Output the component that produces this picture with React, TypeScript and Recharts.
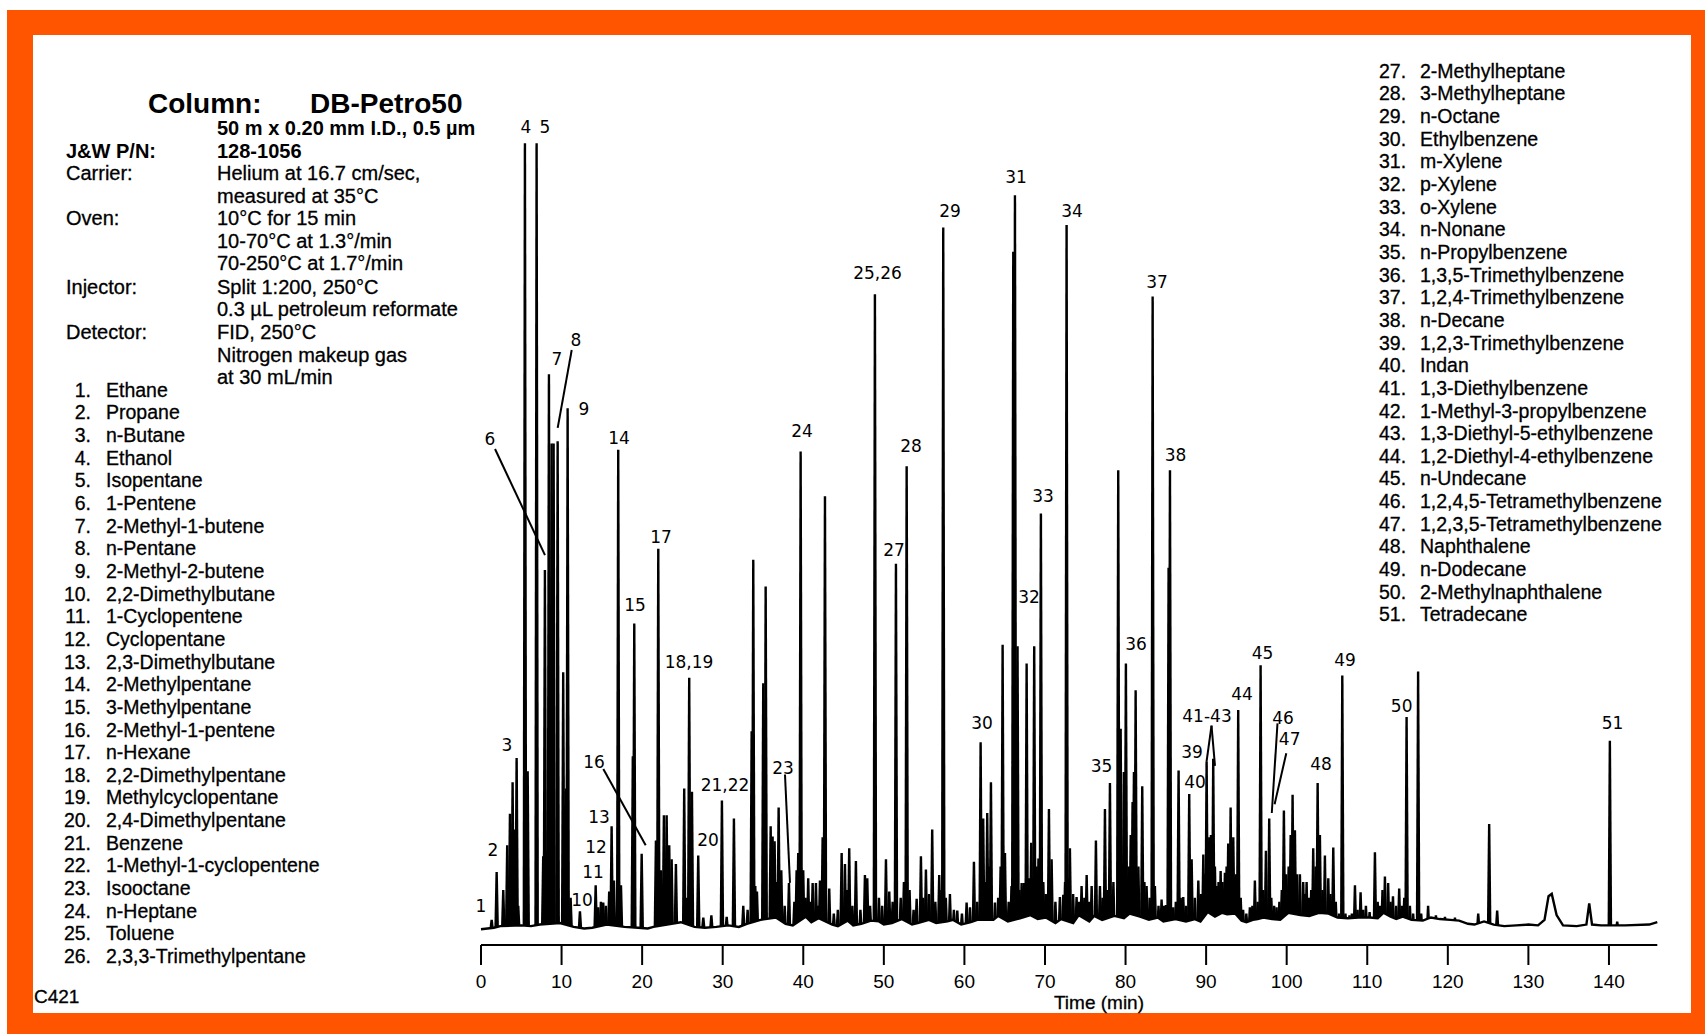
import React from 'react';
import { ComposedChart, Bar, Area, Scatter, XAxis, YAxis, ReferenceLine } from 'recharts';

// [retention time (min), response (% of full scale)]
const peaks: [number, number][] = [
  [1.33, 1.2], [1.95, 7.3], [2.77, 5.0], [3.26, 10.7], [3.6, 14.7], [3.93, 18.7], [4.13, 12.7], [4.43, 21.8],
  [4.63, 3.0], [5.46, 100.0], [5.8, 20.1], [6.91, 100.0], [7.73, 9.3], [7.94, 45.7], [8.44, 70.6], [8.77, 61.8],
  [9.02, 61.8], [9.52, 62.1], [10.21, 32.7], [10.55, 17.9], [10.76, 66.3], [11.13, 4.0], [12.29, 2.3],
  [14.24, 5.6], [14.56, 2.8], [14.89, 3.5], [15.18, 3.4], [15.51, 3.0], [15.92, 4.8], [16.22, 13.1], [16.51, 6.2],
  [17.04, 61.0], [17.38, 5.6], [18.85, 22.0], [19.03, 38.9], [19.95, 9.6], [21.72, 11.3], [22.01, 48.4],
  [22.34, 7.5], [22.71, 14.5], [23.05, 14.5], [23.37, 10.7], [23.67, 8.9], [24.2, 8.3], [25.23, 17.9],
  [25.55, 4.0], [25.85, 32.0], [26.19, 17.5], [26.97, 9.4], [27.6, 1.5], [28.6, 1.8], [29.91, 16.4], [30.5, 1.6],
  [31.4, 14.1], [32.56, 3.0], [33.1, 2.5], [33.6, 25.2], [33.8, 47.0], [34.05, 5.5], [34.26, 4.8], [35.04, 31.3],
  [35.34, 43.6], [35.96, 13.1], [36.2, 11.8], [36.45, 11.2], [36.7, 6.0], [36.95, 15.5], [37.28, 7.5], [37.7, 3.0],
  [38.23, 5.9], [38.9, 3.5], [39.18, 7.5], [39.38, 9.7], [39.68, 60.8],
  [40.0, 7.5], [40.3, 4.0], [40.62, 6.5], [40.9, 3.5], [41.17, 5.9], [41.58, 5.9], [41.85, 3.0], [42.08, 6.2],
  [42.41, 11.7], [42.7, 55.1], [43.23, 5.2], [43.8, 2.0], [44.3, 2.5], [44.77, 9.7], [45.18, 8.3], [45.45, 5.0],
  [45.71, 10.3], [46.1, 3.0], [46.54, 8.7], [47.1, 2.5], [47.66, 6.9], [47.95, 6.5], [48.3, 3.0], [48.9, 80.8],
  [49.4, 4.0], [49.8, 3.0], [50.27, 8.9], [50.68, 4.8], [51.1, 3.5], [51.51, 46.5], [52.1, 4.0], [52.5, 6.0],
  [52.84, 58.9], [53.2, 5.0], [53.7, 2.5], [54.08, 3.9], [54.61, 9.3], [54.9, 4.0], [55.23, 7.6], [55.6, 4.5],
  [56.01, 12.7], [56.4, 3.5], [56.88, 6.9], [57.15, 5.0], [57.38, 89.3], [57.7, 4.0],
  [58.21, 4.5], [58.7, 2.5], [59.12, 2.4], [59.7, 2.0], [60.28, 3.4], [60.7, 2.8], [61.19, 8.6], [61.6, 3.5],
  [62.02, 23.8], [62.34, 14.1], [62.6, 6.0], [62.84, 14.8], [63.05, 8.0], [63.3, 18.7], [63.8, 3.4], [64.2, 4.0],
  [64.5, 8.0], [64.75, 36.2], [65.04, 9.7], [65.5, 3.5], [65.85, 5.5], [66.07, 86.2], [66.28, 93.4], [66.6, 36.0],
  [66.85, 5.0], [67.11, 5.9], [67.4, 5.9], [67.73, 33.8], [68.0, 6.5], [68.3, 11.0], [68.67, 36.0], [68.95, 8.0],
  [69.2, 9.0], [69.5, 52.9], [69.8, 6.0], [70.1, 4.5], [70.5, 15.3], [70.83, 8.9], [71.3, 3.5], [71.86, 4.1],
  [72.28, 4.4], [72.5, 6.0], [72.69, 89.6], [72.95, 6.5], [73.1, 10.3], [73.5, 4.5], [73.93, 4.1], [74.25, 3.5],
  [74.55, 5.5], [74.9, 4.0], [75.18, 6.9], [75.5, 3.5], [75.8, 5.5],
  [76.33, 11.3], [76.83, 5.5], [77.15, 4.0], [77.45, 15.3], [77.75, 5.0], [78.07, 18.6], [78.5, 6.0], [79.1, 58.4],
  [79.4, 25.5], [79.8, 20.0], [80.05, 33.8], [80.4, 8.0], [80.65, 12.0], [80.88, 16.2], [81.05, 20.0], [81.26, 30.4],
  [81.6, 8.0], [82.08, 18.2], [82.35, 6.0], [82.62, 5.5], [83.0, 4.0], [83.37, 80.5], [83.65, 5.5], [84.1, 3.0],
  [84.48, 3.8], [84.75, 3.0], [85.02, 3.1], [85.35, 46.0], [85.52, 58.4], [85.93, 2.8], [86.25, 3.5], [86.59, 20.2],
  [86.85, 4.0], [87.17, 4.1], [87.5, 3.0], [87.91, 17.2], [88.21, 8.9], [88.6, 4.0], [89.04, 6.2], [89.35, 4.5],
  [89.66, 9.5], [89.85, 7.0], [90.07, 21.3], [90.25, 9.0], [90.4, 11.7], [90.61, 12.0], [90.89, 21.7], [91.1, 8.0],
  [91.31, 5.5], [91.55, 6.0], [91.81, 7.4], [92.05, 6.0], [92.34, 7.2], [92.55, 8.0], [92.75, 10.9], [93.05, 15.5],
  [93.38, 11.7], [93.7, 7.0], [93.99, 27.9],
  [94.3, 4.0], [94.6, 2.5], [95.0, 2.0], [95.44, 2.8], [95.75, 3.0], [96.06, 6.2], [96.4, 3.5], [96.77, 33.6],
  [97.1, 5.0], [97.43, 10.0], [97.84, 14.1], [98.1, 4.0], [98.45, 3.0], [98.75, 2.8], [99.1, 3.5], [99.4, 5.0],
  [99.66, 15.1], [99.95, 7.0], [100.25, 8.0], [100.5, 12.0], [100.74, 17.1], [101.03, 12.6], [101.3, 7.0],
  [101.65, 7.0], [102.06, 6.0], [102.25, 4.5], [102.48, 6.0], [102.8, 4.0], [103.05, 5.0], [103.3, 10.3],
  [103.6, 8.0], [103.85, 18.6], [104.13, 12.0], [104.45, 5.0], [104.75, 9.4], [105.17, 6.5], [105.45, 4.5],
  [105.79, 10.4], [106.1, 3.5], [106.5, 2.0], [106.91, 32.3], [107.3, 2.0], [107.8, 1.8], [108.1, 2.0],
  [108.48, 5.6], [108.8, 2.5], [109.18, 4.7], [109.5, 2.5], [109.84, 3.0], [110.3, 2.2], [110.96, 9.8],
  [111.3, 3.5], [111.6, 3.0], [111.9, 5.0], [112.2, 6.7], [112.6, 5.9], [112.9, 3.5], [113.2, 4.2], [113.6, 3.0],
  [113.97, 5.2], [114.3, 3.0], [114.6, 4.0], [114.89, 27.0], [115.3, 3.0], [115.7, 2.0], [116.32, 32.8],
  [116.7, 2.0], [117.56, 3.0], [118.53, 1.8], [119.65, 1.6], [120.89, 1.5], [123.78, 2.0], [125.14, 13.4],
  [126.13, 2.4], [140.12, 24.0], [141.03, 1.0],
];

// baseline trace [time, response]; carries the drift and the two broad humps near 133 and 137.5 min
const baseline: [number, number][] = [
  [0, 0.0], [0.8, 0.1], [1.6, 0.2], [2.4, 0.4], [5.0, 0.5], [6.2, 0.4], [7.3, 0.6], [9.8, 0.8], [11.5, 0.3],
  [12.8, 0.1], [13.8, 0.2], [15.6, 0.6], [17.8, 0.3], [19.5, 0.2], [20.7, 0.1], [21.4, 0.3], [24.8, 0.9],
  [26.5, 0.3], [27.8, 0.2], [29.2, 0.3], [30.7, 0.5], [32.0, 0.3], [33.0, 0.7], [34.7, 1.2], [36.6, 1.5],
  [37.8, 0.7], [38.7, 0.5], [40.3, 1.6], [41.0, 0.9], [41.9, 1.4], [43.6, 0.6], [44.3, 0.4], [45.5, 1.1],
  [46.2, 0.5], [47.2, 0.7], [48.4, 1.1], [49.4, 1.0], [50.0, 0.6], [51.0, 0.8], [52.2, 1.3], [53.5, 0.6],
  [54.2, 0.8], [55.6, 1.2], [56.5, 0.8], [57.9, 1.0], [58.6, 1.2], [59.6, 0.6], [60.8, 0.9], [61.6, 1.2],
  [63.6, 1.2], [64.2, 1.7], [65.4, 1.0], [66.9, 1.4], [68.2, 1.8], [69.1, 1.3], [70.1, 1.5], [71.3, 0.8],
  [72.0, 1.3], [73.5, 0.8], [74.2, 1.8], [75.5, 1.0], [76.1, 1.7], [77.1, 1.2], [78.6, 1.7], [79.8, 1.4],
  [80.5, 2.0], [81.8, 1.6], [82.9, 1.2], [84.0, 1.5], [84.7, 1.0], [86.2, 1.3], [87.5, 1.0], [88.6, 1.3],
  [89.3, 1.0], [90.2, 2.2], [91.1, 1.6], [92.0, 2.1], [92.6, 1.9], [93.6, 2.0], [94.4, 1.1], [95.0, 0.9],
  [95.8, 1.2], [96.4, 1.3], [97.1, 1.5], [98.2, 1.3], [99.2, 1.2], [100.2, 2.1], [101.7, 1.8], [102.8, 1.7],
  [104.0, 2.1], [105.2, 2.0], [106.3, 1.5], [107.6, 1.4], [108.9, 1.5], [110.3, 1.5], [111.3, 1.4], [112.0, 2.1],
  [112.9, 1.6], [113.6, 1.3], [114.4, 1.6], [115.5, 1.2], [116.9, 1.1], [117.9, 1.5], [119.0, 1.3], [120.3, 1.2],
  [121.4, 1.1], [122.5, 0.7], [123.3, 0.6], [124.5, 1.0], [125.7, 0.6], [127.0, 0.4], [128.5, 0.5], [130.0, 0.6],
  [131.2, 0.5], [132.0, 1.2], [132.5, 4.2], [132.9, 4.5], [133.5, 1.8], [134.3, 0.5], [136.0, 0.4], [137.2, 0.6],
  [137.55, 3.3], [137.9, 0.6], [139.0, 0.5], [142.0, 0.5], [145.0, 0.6], [146.0, 0.9],
];

// peak numbers: [text, time, response at label centre]
const peakLabels: [string, number, number][] = [
  ['1', 0, 3.0], ['2', 1.49, 10.1], ['3', 3.23, 23.4], ['4', 5.59, 102.1], ['5', 7.94, 102.1], ['6', 1.12, 62.4],
  ['7', 9.43, 72.6], ['8', 11.79, 75.0], ['9', 12.78, 66.2], ['10', 12.54, 3.7], ['11', 13.9, 7.3],
  ['12', 14.27, 10.5], ['13', 14.65, 14.3], ['14', 17.13, 62.5], ['15', 19.11, 41.3], ['16', 14.03, 21.3],
  ['17', 22.34, 49.9], ['18,19', 25.82, 34.0], ['20', 28.17, 11.3], ['21,22', 30.28, 18.3], ['23', 37.48, 20.5],
  ['24', 39.84, 63.4], ['25,26', 49.21, 83.5], ['27', 51.26, 48.3], ['28', 53.37, 61.5], ['29', 58.21, 91.4],
  ['30', 62.18, 26.3], ['31', 66.4, 95.7], ['32', 68.02, 42.3], ['33', 69.75, 55.1], ['34', 73.35, 91.4],
  ['35', 77.01, 20.8], ['36', 81.3, 36.3], ['37', 83.9, 82.3], ['38', 86.2, 60.4], ['39', 88.25, 22.5],
  ['40', 88.62, 18.7], ['41-43', 90.11, 27.1], ['44', 94.45, 29.9], ['45', 97.0, 35.2], ['46', 99.54, 26.9],
  ['47', 100.37, 24.2], ['48', 104.26, 21.0], ['49', 107.24, 34.3], ['50', 114.27, 28.4], ['51', 140.45, 26.2],
];

// pointer lines from a number to its peak: [t1, v1, t2, v2]
const leaderLines: [number, number, number, number][] = [
  [1.74, 61.1, 7.94, 47.6],
  [11.26, 73.7, 9.52, 63.8],
  [15.18, 20.4, 20.44, 10.7],
  [37.73, 19.7, 38.35, 5.9],
  [90.05, 21.3, 90.67, 25.9],
  [90.67, 25.9, 91.1, 20.8],
  [98.86, 26.2, 98.15, 14.8],
  [99.95, 22.4, 98.5, 15.9],
];

const timeTicks = [0, 10, 20, 30, 40, 50, 60, 70, 80, 90, 100, 110, 120, 130, 140];

const conditions: [string, string, number][] = [
  ['J&W P/N:', '128-1056', 151],
  ['Carrier:', 'Helium at 16.7 cm/sec,', 173],
  ['', 'measured at 35°C', 196],
  ['Oven:', '10°C for 15 min', 218],
  ['', '10-70°C at 1.3°/min', 241],
  ['', '70-250°C at 1.7°/min', 263],
  ['Injector:', 'Split 1:200, 250°C', 287],
  ['', '0.3 µL petroleum reformate', 309],
  ['Detector:', 'FID, 250°C', 332],
  ['', 'Nitrogen makeup gas', 355],
  ['', 'at 30 mL/min', 377],
];

const compoundsA = [
  'Ethane', 'Propane', 'n-Butane', 'Ethanol', 'Isopentane', '1-Pentene', '2-Methyl-1-butene', 'n-Pentane',
  '2-Methyl-2-butene', '2,2-Dimethylbutane', '1-Cyclopentene', 'Cyclopentane', '2,3-Dimethylbutane',
  '2-Methylpentane', '3-Methylpentane', '2-Methyl-1-pentene', 'n-Hexane', '2,2-Dimethylpentane',
  'Methylcyclopentane', '2,4-Dimethylpentane', 'Benzene', '1-Methyl-1-cyclopentene', 'Isooctane', 'n-Heptane',
  'Toluene', '2,3,3-Trimethylpentane',
];

const compoundsB = [
  '2-Methylheptane', '3-Methylheptane', 'n-Octane', 'Ethylbenzene', 'm-Xylene', 'p-Xylene', 'o-Xylene',
  'n-Nonane', 'n-Propylbenzene', '1,3,5-Trimethylbenzene', '1,2,4-Trimethylbenzene', 'n-Decane',
  '1,2,3-Trimethylbenzene', 'Indan', '1,3-Diethylbenzene', '1-Methyl-3-propylbenzene',
  '1,3-Diethyl-5-ethylbenzene', '1,2-Diethyl-4-ethylbenzene', 'n-Undecane', '1,2,4,5-Tetramethylbenzene',
  '1,2,3,5-Tetramethylbenzene', 'Naphthalene', 'n-Dodecane', '2-Methylnaphthalene', 'Tetradecane',
];

const SANS = '"Liberation Sans", Arial, Helvetica, sans-serif';
const ROW = 22.65;

// both chart layers share the same plot box so their scales line up
const W = 1705;
const H = 1034;
const MARGIN = { top: 111.84, right: 47.7, left: 481 };
const X_DOMAIN: [number, number] = [0, 146];
const Y_DOMAIN: [number, number] = [-2, 104];

const peakRows = peaks.map(([t, h]) => ({ t, h }));
const baseRows = baseline.map(([t, level]) => ({ t, level }));
const labelRows = peakLabels.map(([text, t, v]) => ({ t, v, text }));

// narrow tapered spike centred on the retention time
function Spike(props: any) {
  const { x, y, width, height } = props;
  if (!height || height <= 0) return null;
  const cx = x + width / 2;
  const b = y + height;
  return <path d={`M${cx - 2.3},${b}L${cx - 1.2},${y}L${cx + 1.2},${y}L${cx + 2.3},${b}Z`} fill="#000" />;
}

function PeakNumber(props: any) {
  const { cx, cy, payload } = props;
  return (
    <text x={cx} y={cy} textAnchor="middle" dominantBaseline="central" fontFamily='"DejaVu Sans", Verdana, sans-serif' fontSize={17} fill="#000">
      {payload.text}
    </text>
  );
}

function Txt({ x, y, size = 20, bold = false, children, align = 'left', w }: any) {
  const style: React.CSSProperties = {
    position: 'absolute',
    top: y - size / 2,
    fontFamily: SANS,
    fontSize: size,
    lineHeight: `${size}px`,
    fontWeight: bold ? 700 : 400,
    whiteSpace: 'nowrap',
    color: '#000',
    WebkitTextStroke: bold ? undefined : '0.3px #000',
  };
  if (align === 'right') {
    style.left = x - (w ?? 40);
    style.width = w ?? 40;
    style.textAlign = 'right';
  } else if (align === 'center') {
    style.left = x - (w ?? 200) / 2;
    style.width = w ?? 200;
    style.textAlign = 'center';
  } else {
    style.left = x;
  }
  return <div style={style}>{children}</div>;
}

export default function App() {
  return (
    <div style={{ position: 'absolute', left: 0, top: 0, width: W, height: H, background: '#fff', overflow: 'hidden' }}>
      <div style={{ position: 'absolute', left: 7, top: 10, width: 1698, height: 1024, background: '#ff5400' }} />
      <div style={{ position: 'absolute', left: 33, top: 35, width: 1658, height: 978, background: '#fff' }} />

      <Txt x={148} y={104} size={28} bold>Column:</Txt>
      <Txt x={310} y={104} size={28} bold>DB-Petro50</Txt>
      <Txt x={217} y={128} size={20} bold>50 m x 0.20 mm I.D., 0.5 µm</Txt>
      {conditions.map(([k, v, y], i) => (
        <React.Fragment key={i}>
          {k && <Txt x={66} y={y} bold={i === 0}>{k}</Txt>}
          <Txt x={217} y={y} bold={i === 0}>{v}</Txt>
        </React.Fragment>
      ))}

      {compoundsA.map((name, i) => (
        <React.Fragment key={name}>
          <Txt x={91} y={390.5 + i * ROW} size={19.5} align="right">{`${i + 1}.`}</Txt>
          <Txt x={106} y={390.5 + i * ROW} size={19.5}>{name}</Txt>
        </React.Fragment>
      ))}
      {compoundsB.map((name, i) => (
        <React.Fragment key={name}>
          <Txt x={1379} y={71.5 + i * ROW} size={19.5}>{`${i + 27}.`}</Txt>
          <Txt x={1420} y={71.5 + i * ROW} size={19.5}>{name}</Txt>
        </React.Fragment>
      ))}
      <Txt x={34} y={996} size={19}>C421</Txt>
      <Txt x={1099} y={1002} size={19} align="center">Time (min)</Txt>

      {/* peaks and time axis */}
      <div style={{ position: 'absolute', left: 0, top: 0 }}>
        <ComposedChart width={W} height={H} data={peakRows} margin={{ ...MARGIN, bottom: 29 }}>
          <XAxis
            dataKey="t"
            type="number"
            domain={X_DOMAIN}
            ticks={timeTicks}
            interval={0}
            height={60}
            tickSize={20}
            tickMargin={10}
            axisLine={{ stroke: '#000', strokeWidth: 2 }}
            tickLine={{ stroke: '#000', strokeWidth: 2 }}
            tick={{ fill: '#000', fontSize: 19, fontFamily: SANS }}
          />
          <YAxis hide type="number" domain={Y_DOMAIN} />
          <Bar dataKey="h" shape={Spike} barSize={4} isAnimationActive={false} />
        </ComposedChart>
      </div>

      {/* baseline trace drawn over the spike feet, plus peak numbers */}
      <div style={{ position: 'absolute', left: 0, top: 0, pointerEvents: 'none' }}>
        <ComposedChart width={W} height={H} data={baseRows} margin={{ ...MARGIN, bottom: 89 }}>
          <XAxis hide dataKey="t" type="number" domain={X_DOMAIN} />
          <YAxis hide type="number" domain={Y_DOMAIN} />
          <Area
            dataKey="level"
            type="linear"
            baseValue={-0.4}
            stroke="#000"
            strokeWidth={2.4}
            fill="#fff"
            fillOpacity={1}
            dot={false}
            activeDot={false}
            isAnimationActive={false}
          />
          {leaderLines.map(([t1, v1, t2, v2], i) => (
            <ReferenceLine
              key={i}
              segment={[{ x: t1, y: v1 }, { x: t2, y: v2 }]}
              stroke="#000"
              strokeWidth={2}
            />
          ))}
          <Scatter data={labelRows} dataKey="v" shape={PeakNumber} isAnimationActive={false} />
        </ComposedChart>
      </div>
    </div>
  );
}
